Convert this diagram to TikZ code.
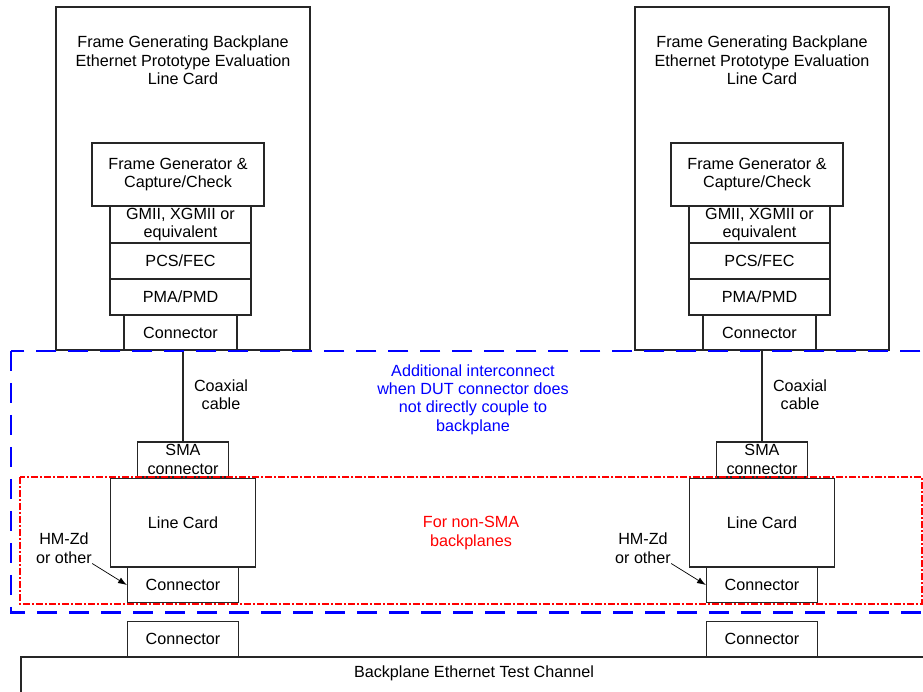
\documentclass[tikz,border=0pt]{standalone}
\usepackage{fontspec}
\setmainfont{Liberation Sans}
\usetikzlibrary{arrows.meta}

\tikzstyle{box}=[draw=black!85, line width=0.8pt, inner sep=0pt, align=center]
\tikzstyle{wire}=[draw=black!85, line width=0.8pt]
\tikzstyle{note}=[inner sep=0pt, align=center]
\tikzstyle{arrow}=[thin, -{Latex[length=5pt, width=3.6pt]}]
\tikzstyle{card}=[box, minimum width=5.08cm, minimum height=6.86cm]
\tikzstyle{fgen}=[box, minimum width=3.44cm, minimum height=1.26cm]
\tikzstyle{layer}=[box, minimum width=2.82cm, minimum height=0.72cm]
\tikzstyle{conn}=[box, minimum width=2.22cm, minimum height=0.71cm]
\tikzstyle{sma}=[box, minimum width=1.82cm, minimum height=0.70cm]
\tikzstyle{linecard}=[box, minimum width=2.91cm, minimum height=1.77cm]
\tikzstyle{interconnect}=[draw=blue, line width=1.7pt, dash pattern=on 0.4cm off 0.24cm]
\tikzstyle{nonsma}=[draw=red, line width=1.4pt, dash pattern=on 0.14cm off 0.04cm on 0.04cm off 0.04cm]

\begin{document}
\begin{tikzpicture}[x=0.02cm, y=-0.02cm, font=\fontsize{9.2}{10.5}\selectfont]
      \useasboundingbox (0,0) rectangle (923,692);
      \clip (0,0) rectangle (923,692);

      % left evaluation card
      \node[card] (cardL) at (183, 178.5) {};
      \node[note] (titleL) at (183, 60.5) {Frame Generating Backplane\\Ethernet Prototype Evaluation\\Line Card};
      \node[fgen] (fgenL) at (178, 174.5) {Frame Generator \&\\Capture/Check};
      \node[layer, minimum height=0.74cm] (gmiiL) at (180.5, 224.5) {GMII, XGMII or\\equivalent};
      \node[layer] (pcsL) at (180.5, 261) {PCS/FEC};
      \node[layer] (pmaL) at (180.5, 297) {PMA/PMD};
      \node[conn, minimum width=2.26cm] (conL) at (180.5, 332.5) {Connector};
      \node[note] (coaxL) at (221, 394.5) {Coaxial\\cable};
      \node[sma] (smaL) at (183, 459.5) {SMA\\connector};
      \node[linecard] (lcL) at (183, 522.7) {Line Card};
      \node[conn] (lcconL) at (183, 585) {Connector};
      \node[note] (hmL) at (64, 548) {HM-Zd\\or other};
      \node[conn] (bpconL) at (183, 639) {Connector};

      % right evaluation card
      \node[card] (cardR) at (762, 178.5) {};
      \node[note] (titleR) at (762, 60.5) {Frame Generating Backplane\\Ethernet Prototype Evaluation\\Line Card};
      \node[fgen] (fgenR) at (757, 174.5) {Frame Generator \&\\Capture/Check};
      \node[layer, minimum height=0.74cm] (gmiiR) at (759.5, 224.5) {GMII, XGMII or\\equivalent};
      \node[layer] (pcsR) at (759.5, 261) {PCS/FEC};
      \node[layer] (pmaR) at (759.5, 297) {PMA/PMD};
      \node[conn, minimum width=2.26cm] (conR) at (759.5, 332.5) {Connector};
      \node[note] (coaxR) at (800, 394.5) {Coaxial\\cable};
      \node[sma] (smaR) at (762, 459.5) {SMA\\connector};
      \node[linecard] (lcR) at (762, 522.7) {Line Card};
      \node[conn] (lcconR) at (762, 585) {Connector};
      \node[note] (hmR) at (643, 548) {HM-Zd\\or other};
      \node[conn] (bpconR) at (762, 639) {Connector};

      % test channel
      \node[box, minimum width=18.12cm, minimum height=0.86cm,
            label={[yshift=0.11cm]center:Backplane Ethernet Test Channel}] (bp) at (474, 678.5) {};

      \draw[wire] (smaL.north) -- (smaL.north |- conL.south);
      \draw[wire] (smaR.north) -- (smaR.north |- conR.south);
      \draw[arrow] (hmL.south east) to (lcconL.west);
      \draw[arrow] (hmR.south east) to (lcconR.west);

      % optional interconnect regions
      \draw[nonsma] (20, 477) rectangle (922, 604);
      \draw[interconnect] (11, 351) rectangle (940, 612.5);
      \node[note, text=blue] (addtext) at (473, 399.5) {Additional interconnect\\when DUT connector does\\not directly couple to\\backplane};
      \node[note, text=red] (nonsmatext) at (471, 533) {For non-SMA\\backplanes};
    \end{tikzpicture}
\end{document}
